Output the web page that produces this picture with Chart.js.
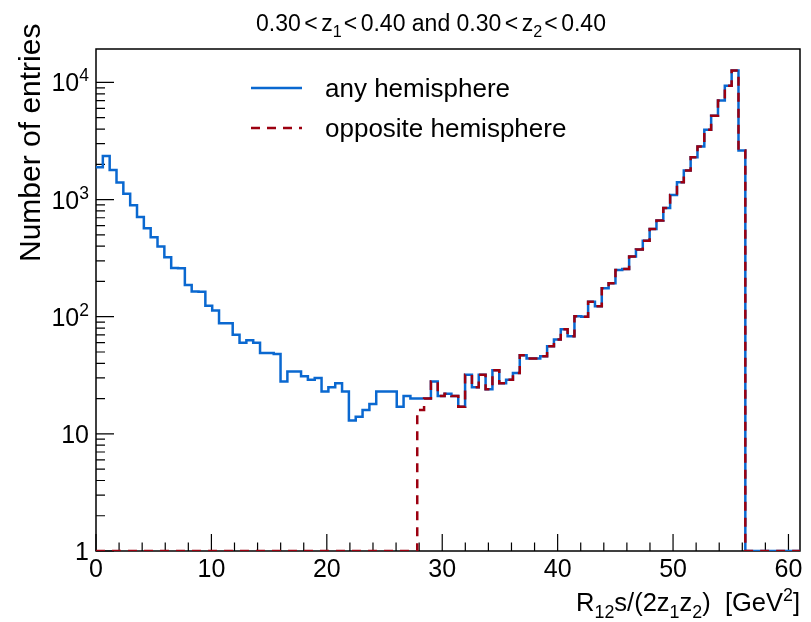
<!DOCTYPE html>
<html lang="en">
<head>
<meta charset="UTF-8">
<title>R12 distribution</title>
<script src="https://cdn.jsdelivr.net/npm/chart.js"></script>
<style>
  body { margin: 0; background: #fff; }
  canvas { display: block; }
</style>
</head>
<body>
<canvas id="histo" width="811" height="622"></canvas>
<script>
// binning: 103 bins on [0, 61], filled up to ~56.3
const nBins = 103;
const xLow = 0;
const xHigh = 61;
const yMin = 1;
const yMax = 19300;

// entries per bin, pairs in any hemisphere
const anyHemisphere = [
  1890, 2360, 1790, 1400, 1120, 896, 711, 570, 477, 397,
  322, 261, 259, 187, 164, 163, 124, 113, 88, 88,
  70, 60, 63, 60, 49, 49, 48, 28, 34, 34,
  31, 29, 30, 23, 25, 27, 23, 13, 14, 16,
  18, 23, 23, 23, 17, 21, 20, 20, 20, 28,
  21, 22, 21, 17, 32, 25, 32, 24, 35, 27,
  29, 33, 47, 44, 44, 46, 56, 64, 78, 68,
  101, 100, 134, 123, 175, 193, 251, 256, 326, 375,
  446, 562, 662, 849, 1097, 1409, 1770, 2303, 2838, 3943,
  5191, 7015, 9370, 12670, 2623
];

// entries per bin, pairs in opposite hemispheres
const oppositeHemisphere = [
  0, 0, 0, 0, 0, 0, 0, 0, 0, 0,
  0, 0, 0, 0, 0, 0, 0, 0, 0, 0,
  0, 0, 0, 0, 0, 0, 0, 0, 0, 0,
  0, 0, 0, 0, 0, 0, 0, 0, 0, 0,
  0, 0, 0, 0, 0, 0, 0, 16, 20, 28,
  21, 22, 21, 17, 32, 25, 32, 24, 35, 27,
  29, 33, 47, 44, 44, 46, 56, 64, 78, 68,
  101, 100, 134, 123, 175, 193, 251, 256, 326, 375,
  446, 562, 662, 849, 1097, 1409, 1770, 2303, 2838, 3943,
  5191, 7015, 9370, 12670, 2623
];

const xTicks = [0, 10, 20, 30, 40, 50, 60];
const xMinorStep = 2;
const yTicks = [1, 10, 100, 1000, 10000];
// [base, superscript]
const yTickLabels = [['1', ''], ['10', ''], ['10', '2'], ['10', '3'], ['10', '4']];

const seriesNames = ['any hemisphere', 'opposite hemisphere'];
const blue = '#0a68d0';
const darkRed = '#9c0010';
const FONT = '"Liberation Sans", Arial, Helvetica, sans-serif';

// step-histogram points: one point per lower bin edge, empty bins sit on the floor
function histPoints(counts) {
  const w = (xHigh - xLow) / nBins;
  const pts = [];
  for (let i = 0; i < nBins; i++) {
    const c = counts[i] || 0;
    pts.push({ x: xLow + i * w, y: c > 0 ? c : yMin });
  }
  pts.push({ x: xHigh, y: pts[pts.length - 1].y });
  return pts;
}

// text with sub/superscripts: segs = [[text, 'sub'|'sup'|'gap'|''], ...]
function segWidth(ctx, t, k, size) {
  if (k === 'gap') return t;
  ctx.font = (k ? size * 0.7 : size) + 'px ' + FONT;
  return ctx.measureText(t).width;
}
function drawRich(ctx, segs, x, y, size, align) {
  const w = segs.reduce((s, [t, k]) => s + segWidth(ctx, t, k, size), 0);
  let cx = align === 'right' ? x - w : align === 'center' ? x - w / 2 : x;
  ctx.textAlign = 'left';
  ctx.textBaseline = 'alphabetic';
  segs.forEach(([t, k]) => {
    const sw = segWidth(ctx, t, k, size);
    if (k !== 'gap') {
      let dy = 0;
      if (k === 'sub') dy = size * 0.28;
      if (k === 'sup') dy = -size * 0.4;
      ctx.fillText(t, cx, y + dy);
    }
    cx += sw;
  });
}

// frame, inward ticks and labels
const axesPlugin = {
  id: 'rootAxes',
  beforeDatasetsDraw(chart) {
    const { ctx, chartArea: a, scales: { x, y } } = chart;
    ctx.save();
    ctx.strokeStyle = '#000';
    ctx.lineWidth = 1.5;
    ctx.strokeRect(a.left, a.top, a.right - a.left, a.bottom - a.top);

    ctx.lineWidth = 1.2;
    ctx.beginPath();
    for (let v = xLow; v <= xHigh; v += xMinorStep) {
      const px = x.getPixelForValue(v);
      const len = xTicks.includes(v) ? 17 : 8.5;
      ctx.moveTo(px, a.bottom);
      ctx.lineTo(px, a.bottom - len);
    }
    yTicks.forEach(d => {
      for (let m = 1; m <= 9; m++) {
        const v = d * m;
        if (v > yMax) break;
        const py = y.getPixelForValue(v);
        const len = m === 1 ? 18 : 9;
        ctx.moveTo(a.left, py);
        ctx.lineTo(a.left + len, py);
      }
    });
    ctx.stroke();

    ctx.fillStyle = '#000';
    const ts = 25;
    xTicks.forEach(v => {
      drawRich(ctx, [[String(v), '']], x.getPixelForValue(v), 577, ts, 'center');
    });
    yTicks.forEach((v, i) => {
      const [b, s] = yTickLabels[i];
      const segs = s ? [[b, ''], [s, 'sup']] : [[b, '']];
      drawRich(ctx, segs, 89, y.getPixelForValue(v) + 9, ts, 'right');
    });

    // titles
    drawRich(ctx, [['0.30', ''], [3.5, 'gap'], ['<', ''], [3.5, 'gap'], ['z', ''], ['1', 'sub'], [2, 'gap'], ['<', ''], [3.5, 'gap'],
      ['0.40 and 0.30', ''], [3.5, 'gap'], ['<', ''], [3.5, 'gap'], ['z', ''], ['2', 'sub'], [2, 'gap'], ['<', ''], [3.5, 'gap'], ['0.40', '']],
      431, 31, 23, 'center');
    drawRich(ctx, [['R', ''], ['12', 'sub'], ['s/(2z', ''], ['1', 'sub'], ['z', ''], ['2', 'sub'],
      [')  [GeV', ''], ['2', 'sup'], [']', '']], a.right, 611, 25.5, 'right');
    ctx.save();
    ctx.translate(39.5, 262);
    ctx.rotate(-Math.PI / 2);
    drawRich(ctx, [['Number of entries', '']], 0, 0, 30, 'left');
    ctx.restore();

    // legend
    ctx.lineWidth = 2.5;
    ctx.strokeStyle = blue;
    ctx.beginPath();
    ctx.moveTo(251, 88); ctx.lineTo(302, 88);
    ctx.stroke();
    ctx.strokeStyle = darkRed;
    ctx.setLineDash([9, 7]);
    ctx.beginPath();
    ctx.moveTo(251, 128); ctx.lineTo(302, 128);
    ctx.stroke();
    ctx.setLineDash([]);
    drawRich(ctx, [[seriesNames[0], '']], 325, 97, 26, 'left');
    drawRich(ctx, [[seriesNames[1], '']], 325, 137, 26, 'left');
    ctx.restore();
  }
};

new Chart(document.getElementById('histo'), {
  type: 'line',
  data: {
    datasets: [
      {
        label: seriesNames[1],
        data: histPoints(oppositeHemisphere),
        borderColor: darkRed,
        borderWidth: 2.5,
        borderDash: [9, 7],
        stepped: 'before',
        pointRadius: 0,
        fill: false,
        order: 1
      },
      {
        label: seriesNames[0],
        data: histPoints(anyHemisphere),
        borderColor: blue,
        borderWidth: 2.5,
        stepped: 'before',
        pointRadius: 0,
        fill: false,
        order: 2
      }
    ]
  },
  options: {
    responsive: false,
    animation: false,
    events: [],
    layout: { padding: { top: 49, right: 11, left: 0, bottom: 0 } },
    plugins: { legend: { display: false }, title: { display: false }, tooltip: { enabled: false } },
    scales: {
      x: {
        type: 'linear', min: xLow, max: xHigh,
        grid: { display: false }, border: { display: false },
        ticks: { display: false },
        afterFit(s) { s.height = 71; }
      },
      y: {
        type: 'logarithmic', min: yMin, max: yMax,
        grid: { display: false }, border: { display: false },
        ticks: { display: false },
        afterFit(s) { s.width = 96; }
      }
    }
  },
  plugins: [axesPlugin]
});
</script>
</body>
</html>
